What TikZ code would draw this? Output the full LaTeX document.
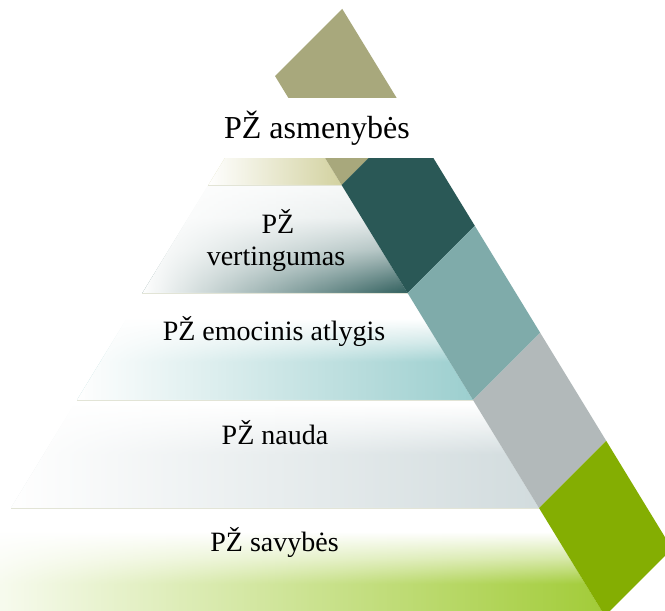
\documentclass[tikz,border=0pt]{standalone}
\usepackage{fontspec}
\setmainfont{Liberation Serif}
\usetikzlibrary{fadings}
\definecolor{cOlive}{HTML}{A8A87C}
\definecolor{cDark}{HTML}{2A5856}
\definecolor{cLteal}{HTML}{7FABAA}
\definecolor{cGray}{HTML}{B2B9BA}
\definecolor{cGreen}{HTML}{84AE02}
\definecolor{bA}{HTML}{D3D2A0}
\definecolor{bB}{HTML}{2F5E5C}
\definecolor{bC}{HTML}{9CCFCF}
\definecolor{bD}{HTML}{D2DCDE}
\definecolor{bE}{HTML}{A2CC38}
\definecolor{lineC}{HTML}{E2E4D6}
\colorlet{bAm}{bA!50!white}
\colorlet{bBa}{bB!80!white}
\colorlet{bBb}{bB!40!white}
\colorlet{bBc}{bB!12!white}
\colorlet{bBd}{bB!5!white}
\colorlet{bCm}{bC!50!white}
\colorlet{bDm}{bD!45!white}
\colorlet{bEm}{bE!45!white}
\pgfdeclareverticalshading{shA}{100bp}{color(0bp)=(bA); color(25bp)=(bA); color(42bp)=(bA); color(52bp)=(bAm); color(63bp)=(white); color(100bp)=(white)}
\pgfdeclareverticalshading{shB}{100bp}{color(0bp)=(bB); color(25bp)=(bB); color(32bp)=(bBa); color(45bp)=(bBb); color(60bp)=(bBc); color(75bp)=(bBd); color(100bp)=(bBd)}
\pgfdeclareverticalshading{shC}{100bp}{color(0bp)=(bC); color(25bp)=(bC); color(43bp)=(bC); color(52bp)=(bCm); color(63bp)=(white); color(100bp)=(white)}
\pgfdeclareverticalshading{shD}{100bp}{color(0bp)=(bD); color(25bp)=(bD); color(50bp)=(bD); color(62bp)=(bDm); color(73bp)=(white); color(100bp)=(white)}
\pgfdeclareverticalshading{shE}{100bp}{color(0bp)=(bE); color(25bp)=(bE); color(40bp)=(bE); color(52bp)=(bEm); color(64bp)=(white); color(100bp)=(white)}
\tikzfading[name=hfade, left color=transparent!0, middle color=transparent!82, right color=transparent!100]
\tikzfading[name=hfadeB, left color=transparent!0, middle color=transparent!45, right color=transparent!100]
\tikzset{
  lbl/.style={font=\fontsize{28}{32}\selectfont, text=black, inner sep=0pt, anchor=base},
  lblbig/.style={font=\fontsize{32}{36}\selectfont, text=black, inner sep=0pt, anchor=base},
  bandline/.style={draw=lineC, line width=0.7pt},
  whitefade/.style={fill=white, path fading=hfade},
  whitefadeB/.style={fill=white, path fading=hfadeB}
}
\begin{document}
\begin{tikzpicture}[x=1pt,y=-1pt]
\fill[white] (0,0) rectangle (665,611);
\useasboundingbox (0,0) rectangle (665,611);
\begin{scope}
\clip (0,0) rectangle (665,611);
% band 1 (triangle)
\shade[shading=shA] (275,76) -- (341.6,185) -- (208.4,185) -- cycle;
\path[whitefade] (275,76) -- (341.6,185) -- (208.4,185) -- cycle;
% band 2
\shade[shading=shB] (208.4,185) -- (341.6,185) -- (407.6,293) -- (142.4,293) -- cycle;
\path[whitefadeB] (208.4,185) -- (341.6,185) -- (407.6,293) -- (142.4,293) -- cycle;
% band 3
\shade[shading=shC] (142.4,293) -- (407.6,293) -- (473,400) -- (77,400) -- cycle;
\path[whitefade] (142.4,293) -- (407.6,293) -- (473,400) -- (77,400) -- cycle;
% band 4
\shade[shading=shD] (77,400) -- (473,400) -- (539,508) -- (11,508) -- cycle;
\path[whitefade] (77,400) -- (473,400) -- (539,508) -- (11,508) -- cycle;
% band 5
\shade[shading=shE] (11,508) -- (539,508) -- (604.9,616) -- (-54.9,616) -- cycle;
\path[whitefade] (11,508) -- (539,508) -- (604.9,616) -- (-54.9,616) -- cycle;
% band top lines
\draw[bandline] (208.4,185) -- (341.6,185);
\draw[bandline] (142.4,293) -- (407.6,293);
\draw[bandline] (77,400) -- (473,400);
\draw[bandline] (11,508) -- (539,508);
% strip
\fill[cOlive] (275,76) -- (342.2,8.8) -- (408.8,117.8) -- (341.6,185) -- cycle;
\fill[cDark] (341.6,185) -- (408.8,117.8) -- (474.8,225.8) -- (407.6,293) -- cycle;
\fill[cLteal] (407.6,293) -- (474.8,225.8) -- (540.2,332.8) -- (473,400) -- cycle;
\fill[cGray] (473,400) -- (540.2,332.8) -- (606.2,440.8) -- (539,508) -- cycle;
\fill[cGreen] (539,508) -- (606.2,440.8) -- (672.1,548.8) -- (604.9,616) -- cycle;
% white label band at top
\fill[white] (150,98) rectangle (455,158);
\end{scope}
% labels
\node[lblbig] (t1) at (317,138) {PŽ asmenybės};
\node[lbl] (t2a) at (278,233) {PŽ};
\node[lbl] (t2b) at (276,265) {vertingumas};
\node[lbl] (t3) at (274,340) {PŽ emocinis atlygis};
\node[lbl] (t4) at (275,444) {PŽ nauda};
\node[lbl] (t5) at (274.5,551) {PŽ savybės};
\end{tikzpicture}
\end{document}
